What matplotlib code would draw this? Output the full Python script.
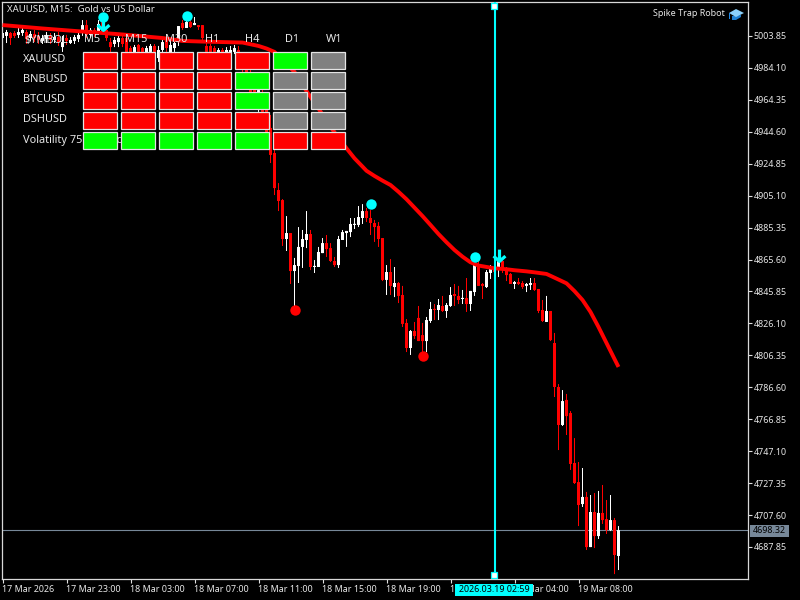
import matplotlib
matplotlib.use("Agg")
import matplotlib.pyplot as plt
from matplotlib.patches import Rectangle, Polygon
from matplotlib.path import Path

plt.rcParams['font.family'] = ['Noto Sans', 'DejaVu Sans']

opens = [5002.6,5003.9,5005.7,5005.7,5004.5,5005.7,5006.3,5002.6,5005.1,5003.9,
         5000.8,5002.0,5003.9,5001.4,5003.2,4997.0,5002.6,4999.5,5000.8,5002.0,
         5005.7,5010.6,5004.5,5007.6,5006.3,5012.5,5007.6,5000.1,4998.9,5000.1,
         5002.6,5002.6,4996.4,4991.5,4998.3,4996.4,4991.5,4994.0,4997.7,4990.2,
         4995.2,5001.4,4989.0,4996.4,5000.1,5011.9,5008.8,5012.5,5010.6,5010.6,
         5010.6,4997.7,4997.7,4996.4,4990.2,4995.2,4989.0,4991.5,4994.0,4995.2,
         4987.8,4985.3,4981.6,4971.7,4968.6,4969.2,4958.1,4947.0,4931.5,4908.6,
         4902.4,4878.3,4882.0,4858.5,4861.6,4873.4,4877.7,4881.4,4861.0,4861.0,
         4869.6,4875.8,4872.7,4864.7,4862.2,4877.7,4882.0,4882.6,4887.0,4887.0,
         4891.3,4895.6,4891.3,4888.2,4886.4,4878.9,4853.0,4857.9,4848.6,4851.1,
         4843.7,4826.4,4810.9,4821.4,4829.5,4818.9,4815.2,4827.6,4835.0,4834.4,
         4836.9,4833.8,4836.9,4844.3,4843.1,4841.2,4841.8,4838.1,4845.5,4862.2,
         4850.5,4848.6,4857.3,4860.4,4860.4,4864.7,4860.4,4856.7,4850.5,4851.7,
         4851.1,4849.3,4849.9,4851.1,4847.4,4834.4,4827.0,4833.8,4814.0,4786.8,
         4763.3,4778.8,4770.7,4739.8,4728.0,4714.4,4718.8,4687.8,4709.5,4694.6,
         4708.9,4705.1,4698.3,4704.5,4682.3]
highs = [5008.8,5007.6,5006.3,5006.9,5008.8,5008.8,5007.6,5006.9,5007.6,5006.3,
         5004.5,5006.3,5005.7,5005.7,5006.3,5003.9,5004.5,5003.2,5004.5,5005.7,
         5013.7,5013.7,5008.8,5008.8,5013.7,5015.0,5009.4,5002.6,5003.2,5005.1,
         5004.5,5005.1,4997.7,4998.3,4998.9,4997.0,4997.7,4998.9,4998.9,4997.7,
         5002.6,5003.2,5001.4,5001.4,5010.0,5013.7,5015.6,5013.7,5015.6,5010.6,
         5010.6,5002.6,4998.9,4997.7,4996.4,4996.4,4997.0,4997.7,4998.3,4997.7,
         4990.2,4987.8,4984.1,4976.6,4973.5,4971.7,4961.2,4955.0,4933.3,4912.9,
         4903.0,4892.5,4882.0,4866.6,4885.7,4883.9,4895.6,4883.9,4865.3,4873.4,
         4878.9,4880.8,4875.8,4867.2,4880.2,4883.9,4883.3,4891.3,4891.3,4898.7,
         4899.9,4897.5,4896.2,4890.1,4888.8,4878.9,4862.2,4865.9,4861.0,4851.7,
         4849.3,4828.8,4822.0,4827.0,4836.9,4826.4,4830.1,4839.4,4838.1,4841.2,
         4843.1,4838.7,4848.6,4850.5,4849.3,4846.8,4854.2,4846.2,4865.3,4865.3,
         4851.1,4859.1,4862.2,4862.2,4867.2,4865.9,4861.0,4857.3,4852.3,4854.2,
         4852.3,4851.1,4854.2,4854.2,4847.4,4840.6,4843.1,4833.8,4820.2,4788.6,
         4784.9,4782.5,4771.9,4755.2,4740.4,4736.7,4721.9,4720.0,4721.2,4722.5,
         4726.2,4716.9,4720.0,4705.8,4700.8]
lows = [5000.1,4999.5,4998.3,5002.6,5002.6,5003.9,4998.9,5000.8,5000.1,4998.9,
        4998.9,4999.5,4998.9,4999.5,4997.7,4994.0,4998.3,4998.9,4998.9,5000.1,
        5003.9,5002.6,5002.6,5003.2,5004.5,5005.1,5000.8,4994.0,4997.0,4997.0,
        4997.0,4987.8,4989.0,4990.2,4991.5,4991.5,4989.0,4991.5,4989.0,4987.8,
        4994.0,4994.0,4987.8,4994.0,4997.7,5007.6,5008.8,5008.8,5010.6,5007.6,
        5001.4,4991.5,4990.2,4989.0,4987.8,4987.8,4987.8,4989.0,4992.7,4985.3,
        4981.6,4977.9,4967.4,4967.4,4956.9,4955.0,4942.6,4925.3,4905.5,4895.6,
        4874.0,4870.9,4850.5,4836.3,4851.1,4860.4,4872.7,4859.1,4857.3,4861.0,
        4869.6,4867.2,4864.1,4861.0,4860.4,4877.7,4873.4,4879.5,4884.5,4885.7,
        4887.6,4888.8,4880.8,4876.5,4873.4,4852.3,4843.7,4843.7,4842.4,4838.7,
        4823.9,4808.4,4806.6,4816.5,4815.2,4808.4,4808.4,4826.4,4828.2,4828.2,
        4833.2,4829.5,4836.3,4836.9,4838.1,4838.1,4833.2,4833.8,4843.1,4849.3,
        4841.2,4848.0,4853.6,4854.2,4854.8,4857.3,4852.3,4850.5,4847.4,4849.9,
        4847.4,4845.5,4846.8,4846.2,4832.5,4827.0,4827.0,4815.2,4780.6,4747.8,
        4762.7,4757.1,4735.5,4726.8,4700.8,4712.6,4686.0,4687.8,4687.2,4692.8,
        4702.1,4695.9,4697.7,4671.1,4673.6]
closes = [5005.7,5006.3,5002.6,5003.9,5006.3,5007.6,5002.0,5005.1,5002.6,5001.4,
          5002.6,5004.5,5001.4,5003.2,5000.1,5000.1,5000.8,5001.4,5003.2,5004.5,
          5010.6,5004.5,5007.6,5005.7,5011.3,5006.9,5002.6,4997.0,5001.4,5002.6,
          4998.9,4990.2,4990.2,4997.0,4994.0,4993.3,4996.4,4997.7,4991.5,4995.2,
          5000.1,4996.4,4998.3,4999.5,5010.0,5008.8,5012.5,5009.4,5011.9,5009.4,
          5002.6,4994.0,4991.5,4991.5,4995.2,4989.0,4995.2,4995.2,4996.4,4987.8,
          4984.1,4981.6,4969.2,4969.2,4970.4,4956.9,4944.5,4930.3,4909.8,4901.8,
          4878.3,4882.0,4858.5,4862.2,4873.4,4878.3,4881.4,4861.0,4861.6,4870.3,
          4875.8,4872.1,4864.7,4862.2,4878.3,4882.6,4883.3,4887.6,4887.6,4891.9,
          4895.6,4891.3,4888.2,4885.7,4878.3,4853.0,4857.9,4849.3,4851.1,4843.1,
          4825.8,4810.9,4821.4,4818.3,4815.2,4815.2,4828.2,4835.0,4834.4,4837.5,
          4833.8,4837.5,4843.7,4843.1,4840.6,4841.8,4838.1,4846.2,4862.2,4849.3,
          4849.3,4857.9,4860.4,4857.9,4864.7,4859.8,4856.0,4850.5,4851.7,4850.5,
          4848.6,4850.5,4851.1,4846.8,4833.8,4827.6,4833.8,4815.8,4786.8,4763.3,
          4778.1,4768.8,4739.2,4727.4,4713.8,4718.8,4687.8,4709.5,4694.6,4708.9,
          4704.5,4698.3,4704.5,4682.9,4698.32]

ma_bars = [0,10,20,30,40,45,50,60,64,66,68,73,76,79,82,86,88,90,91,93,95,97,99,101,103,105,
           107,109,111,113,115,117,119,122,123,126,128,131,133,136,138,141,143,145,147,
           149,151,153,154]
ma_values = [5010.6,5008.5,5006.6,5004.8,5002.6,5000.8,5000.4,4999.8,4997.7,4996.1,4994.0,
             4981.6,4969.8,4959.0,4947.6,4934.4,4928.2,4923.1,4920.5,4917.3,4914.4,4911.7,
             4907.5,4902.9,4897.7,4892.5,4887.0,4881.4,4876.3,4871.5,4867.4,4863.9,4861.9,
             4860.6,4860.2,4859.6,4859.0,4858.3,4857.7,4856.7,4854.4,4850.9,4846.1,4840.6,
             4833.2,4823.9,4814.0,4804.1,4799.2]

cyan_dot_bars = [25, 46, 92, 118]
cyan_dot_prices = [5015.6, 5016.2, 4899.9, 4867.2]
red_dot_bars = [73, 105]
red_dot_prices = [4834.4, 4805.9]
arrow_bars = [25, 124]
arrow_prices = [5011.3, 4868.4]

price_ticks = [5003.85,4984.10,4964.35,4944.60,4924.85,4905.10,4885.35,4865.60,4845.85,
               4826.10,4806.35,4786.60,4766.85,4747.10,4727.35,4707.60,4687.85]
time_tick_bars = [0,16,32,48,64,80,96,112,128,144]
time_tick_labels = ["17 Mar 2026","17 Mar 23:00","18 Mar 03:00","18 Mar 07:00","18 Mar 11:00",
                    "18 Mar 15:00","18 Mar 19:00","18 Mar 23:00","19 Mar 04:00","19 Mar 08:00"]
last_price = 4698.32
cursor_bar = 123
cursor_label = "2026.03.19 02:59"

symbols = ["XAUUSD","BNBUSD","BTCUSD","DSHUSD","Volatility 75 (1s) Index"]
timeframes = ["M5","M15","M30","H1","H4","D1","W1"]
signal_rows = [["r","r","r","r","r","g","n"],
               ["r","r","r","r","g","n","n"],
               ["r","r","r","r","g","n","n"],
               ["r","r","r","r","r","n","n"],
               ["g","g","g","g","g","r","r"]]

RED, LIME, CYAN, GRAY = "#FF0000", "#00FF00", "#00FFFF", "#808080"
TXT = "#E8E8E8"
FS_TICK = 6.45
FS_HEAD = 6.9
FS_TABLE = 7.9
fill = {"r": RED, "g": LIME, "n": GRAY}

fig = plt.figure(figsize=(8, 6), dpi=100, facecolor="black")
ax = fig.add_axes([2/800, 1-579/600, 746/800, 577/600], facecolor="black")
ax.set_xlim(-0.125, 186.375)
ax.set_ylim(5026.11-0.6184*579, 5026.11-0.6184*2)

ax.axhline(last_price, color="#778899", lw=0.8, zorder=1)
for i, (o, h, l, c) in enumerate(zip(opens, highs, lows, closes)):
    col = "white" if c >= o else RED
    ax.vlines(i, l, h, color=col, lw=0.72, zorder=2, snap=False)
    bars = ax.bar(i, max(abs(c-o), 0.7), bottom=min(o, c), width=0.75, color=col, lw=0, zorder=2)
    bars[0].set_snap(False)
ax.plot(ma_bars, ma_values, color=RED, lw=2.8, zorder=3, solid_capstyle="butt", solid_joinstyle="round")
ax.plot(cyan_dot_bars, cyan_dot_prices, "o", color=CYAN, ms=7.5, mew=0, zorder=4)
ax.plot(red_dot_bars, red_dot_prices, "o", color=RED, ms=7.5, mew=0, zorder=4)
arrow = Path([(0, 1), (0, -1), (-1, -0.1), (0, -1), (1, -0.1)],
             [Path.MOVETO, Path.LINETO, Path.MOVETO, Path.LINETO, Path.LINETO])
ax.plot(arrow_bars, arrow_prices, ls="none", marker=arrow, ms=8.5, mfc="none", mec=CYAN, mew=2.3, zorder=4)
ax.axvline(cursor_bar, color=CYAN, lw=1.5, zorder=5)

ax.yaxis.tick_right()
ax.set_yticks(price_ticks, [f"{p:.2f}" for p in price_ticks])
ax.set_xticks(time_tick_bars, time_tick_labels)
for lab in ax.get_xticklabels():
    lab.set_ha("left")
ax.tick_params(axis="both", colors="#E0E0E0", labelcolor=TXT, labelsize=FS_TICK, length=3, width=0.8, pad=1)
for s in ax.spines.values():
    s.set_color("#D8D8D8")
    s.set_linewidth(0.9)

ov = fig.add_axes([0, 0, 1, 1], facecolor="none")
ov.set_xlim(0, 800)
ov.set_ylim(600, 0)
ov.axis("off")

ov.text(7, 9.5, "XAUUSD, M15:  Gold vs US Dollar", color=TXT, fontsize=FS_HEAD, va="center", ha="left")
ov.text(725, 13.5, "Spike Trap Robot", color=TXT, fontsize=FS_TICK, va="center", ha="right")
ov.add_patch(Polygon([(732, 16), (732, 20), (736, 20), (741, 17), (741, 15)], closed=True, fc="#1E7FD0", ec="none"))
ov.add_patch(Polygon([(729, 13), (736, 9), (744, 13), (736, 17)], closed=True, fc="#8AD0FA", ec="none"))
ov.add_patch(Rectangle((729, 13), 1, 6, fc="#1E88E5", ec="none"))

ov.text(24, 40, "$YMBOL", color=TXT, fontsize=FS_TABLE, va="center", ha="left", zorder=6)
col_centers = [92, 136, 176, 212, 252, 292, 334]
for tf, cx in zip(timeframes, col_centers):
    ov.text(cx, 40, tf, color=TXT, fontsize=FS_TABLE, va="center", ha="center", zorder=6)
for r, (sym, row) in enumerate(zip(symbols, signal_rows)):
    y0 = 52 + 20*r
    ov.text(23, y0+8, sym, color=TXT, fontsize=FS_TABLE, va="center", ha="left", zorder=6)
    for c, state in enumerate(row):
        ov.add_patch(Rectangle((83+38*c, y0), 34, 17, fc=fill[state], ec="#E4E4E4", lw=0.9, zorder=7))

for yy in (6, 575):
    ov.add_patch(Rectangle((491, yy-3), 6, 6, fc="white", ec=CYAN, lw=0.9, zorder=8))
ov.add_patch(Rectangle((455, 584), 78, 12, fc=CYAN, ec="none", zorder=8))
ov.text(494, 590, cursor_label, color="black", fontsize=FS_TICK, va="center", ha="center", zorder=9)
ov.add_patch(Rectangle((750, 525), 39, 11.5, fc="#778899", ec="none", zorder=8))
ov.text(769.5, 530.5, f"{last_price:.2f}", color="black", fontsize=FS_TICK, va="center", ha="center", zorder=9)

fig.savefig("out.png", dpi=100, facecolor="black")
